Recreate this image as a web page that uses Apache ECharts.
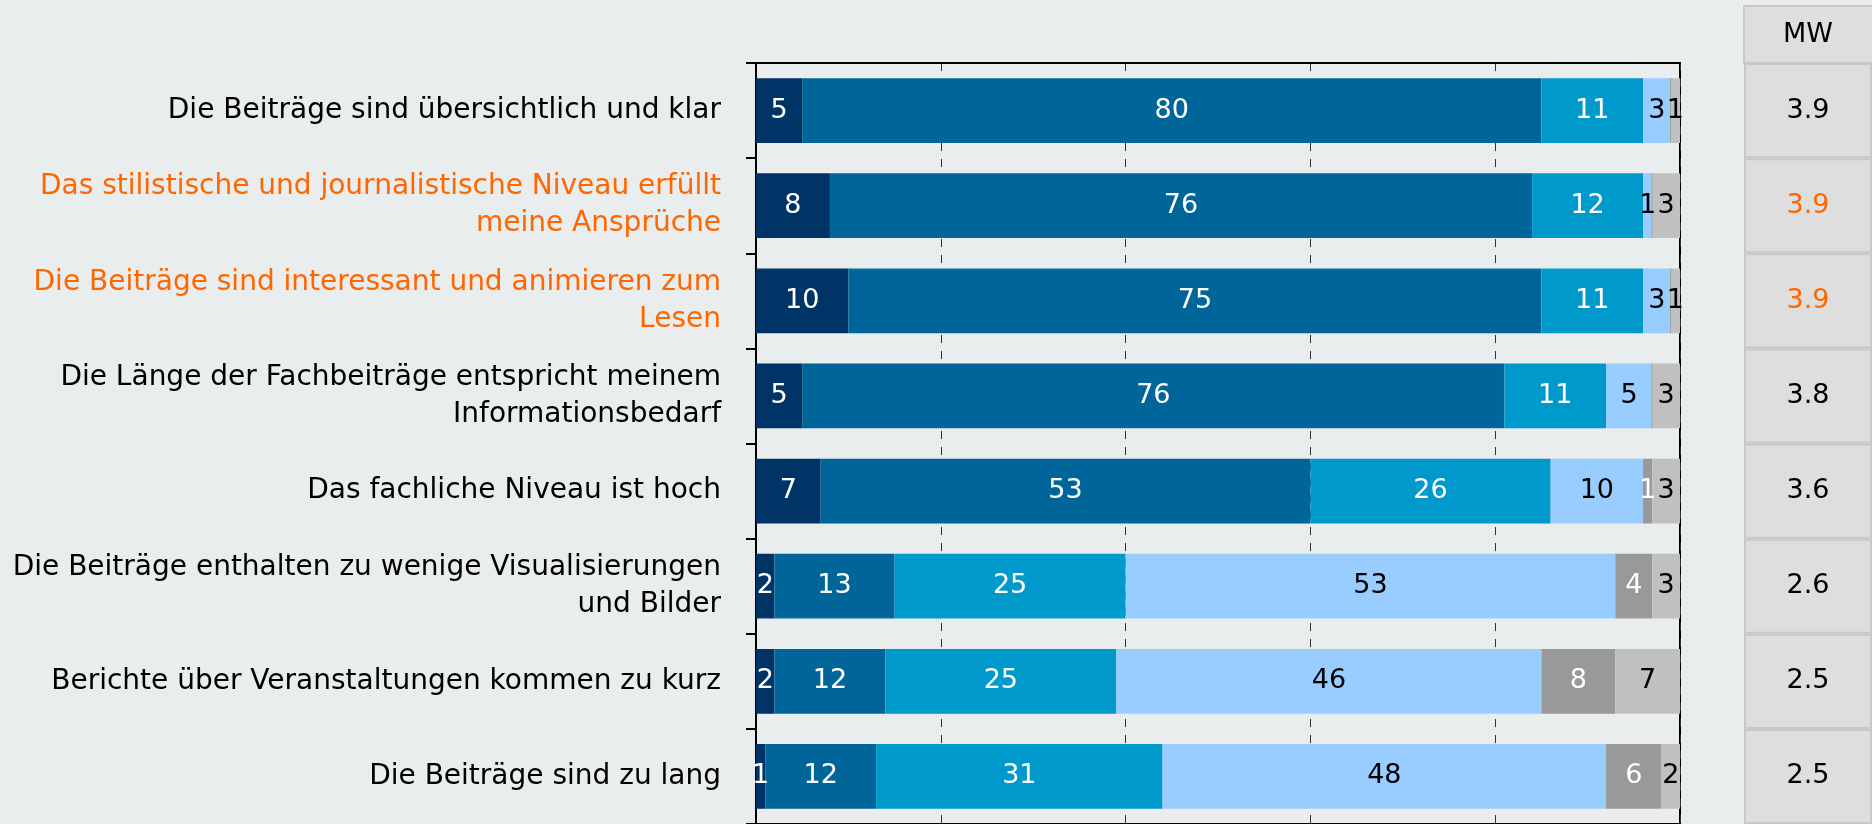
<!DOCTYPE html>
<html>
<head>
<meta charset="utf-8">
<script src="https://cdn.jsdelivr.net/npm/echarts@6/dist/echarts.min.js"></script>
<style>
html,body{margin:0;padding:0;background:#E9EDEE;}
#chart{width:1872px;height:824px;}
</style>
</head>
<body>
<div id="chart"></div>
<script>
const categories = [
  "Die Beiträge sind übersichtlich und klar",
  "Das stilistische und journalistische Niveau erfüllt\nmeine Ansprüche",
  "Die Beiträge sind interessant und animieren zum\nLesen",
  "Die Länge der Fachbeiträge entspricht meinem\nInformationsbedarf",
  "Das fachliche Niveau ist hoch",
  "Die Beiträge enthalten zu wenige Visualisierungen\nund Bilder",
  "Berichte über Veranstaltungen kommen zu kurz",
  "Die Beiträge sind zu lang"
];
const highlighted = [false, true, true, false, false, false, false, false];
const seg1 = [5, 8, 10, 5, 7, 2, 2, 1];
const seg2 = [80, 76, 75, 76, 53, 13, 12, 12];
const seg3 = [11, 12, 11, 11, 26, 25, 25, 31];
const seg4 = [3, 1, 3, 5, 10, 53, 46, 48];
const seg5 = [0, 0, 0, 0, 1, 4, 8, 6];
const seg6 = [1, 3, 1, 3, 3, 3, 7, 2];
const mw = ["3.9", "3.9", "3.9", "3.8", "3.6", "2.6", "2.5", "2.5"];
const mwHeader = "MW";

const FONT = "DejaVu Sans";
const ORANGE = "#FF6600";
const segColors = ["#003366", "#006699", "#0099CC", "#99CCFF", "#999999", "#C0C0C0"];
const segLabelColors = ["#FFFFFF", "#FFFFFF", "#FFFFFF", "#000000", "#FFFFFF", "#000000"];
const segs = [seg1, seg2, seg3, seg4, seg5, seg6];

const chart = echarts.init(document.getElementById('chart'), null, {renderer: 'canvas'});

const barSeries = segs.map((arr, i) => ({
  type: 'bar',
  stack: 'total',
  xAxisIndex: 0,
  yAxisIndex: 0,
  data: arr,
  barCategoryGap: '32%',
  itemStyle: {color: segColors[i], borderColor: segColors[i], borderWidth: 1.4},
  label: {
    show: true,
    position: 'inside',
    color: segLabelColors[i],
    fontFamily: FONT,
    fontSize: 27,
    formatter: p => p.value === 0 ? '' : String(p.value)
  },
  silent: true,
  animation: false
}));

const mwSeries = {
  type: 'bar',
  xAxisIndex: 1,
  yAxisIndex: 1,
  data: mw.map((v, i) => ({
    value: 1,
    label: {color: highlighted[i] ? ORANGE : '#000000'}
  })),
  barWidth: '100%',
  itemStyle: {color: '#DEDEDE', borderColor: '#C8C8C8', borderWidth: 2},
  label: {
    show: true,
    position: 'inside',
    fontFamily: FONT,
    fontSize: 27,
    formatter: p => mw[p.dataIndex]
  },
  silent: true,
  animation: false
};

chart.setOption({
  backgroundColor: '#E9EDEE',
  animation: false,
  grid: [
    {left: 756, right: 192, top: 63, bottom: -7, show: true, borderColor: '#000', borderWidth: 2, backgroundColor: 'transparent', containLabel: false},
    {left: 1744, right: 0, top: 63, bottom: -7, containLabel: false}
  ],
  xAxis: [
    {
      type: 'value', gridIndex: 0, min: 0, max: 100, interval: 20, position: 'top',
      axisLine: {show: true, lineStyle: {color: '#000', width: 2}},
      axisTick: {show: false},
      axisLabel: {show: false},
      splitLine: {show: true, lineStyle: {color: '#333', width: 1, type: [8, 8]}}
    },
    {
      type: 'value', gridIndex: 1, min: 0, max: 1, show: false
    }
  ],
  yAxis: [
    {
      type: 'category', gridIndex: 0, data: categories, inverse: true,
      axisLine: {show: true, lineStyle: {color: '#000', width: 2}},
      axisTick: {show: true, inside: false, length: 10, lineStyle: {color: '#000', width: 2}},
      axisLabel: {
        margin: 35, fontFamily: FONT, fontSize: 28, lineHeight: 37, align: 'right',
        color: (v, i) => highlighted[i] ? ORANGE : '#000000'
      },
      splitLine: {show: false}
    },
    {
      type: 'category', gridIndex: 1, data: categories, inverse: true, show: false
    }
  ],
  graphic: [
    {
      type: 'rect',
      shape: {x: 1744, y: 6, width: 140, height: 57},
      style: {fill: '#DEDEDE', stroke: '#C8C8C8', lineWidth: 2},
      silent: true
    },
    {
      type: 'text',
      x: 1808, y: 35,
      style: {text: mwHeader, font: '27px "DejaVu Sans"', fill: '#000', align: 'center', verticalAlign: 'middle'},
      silent: true
    }
  ],
  series: barSeries.concat([mwSeries])
});
</script>
</body>
</html>
